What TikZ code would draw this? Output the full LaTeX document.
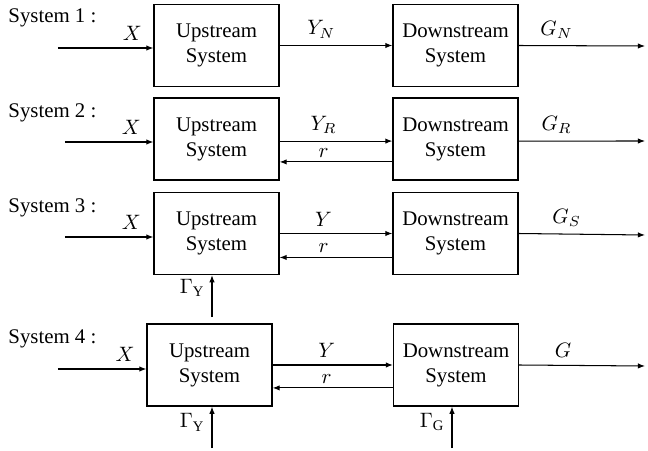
\documentclass[tikz,border=0pt]{standalone}
\usepackage{fontspec}
\setmainfont{Liberation Serif}
\usetikzlibrary{arrows.meta}
\tikzset{
    cascade/.style={
        x=0.48pt, y=-0.48pt,
        block/.style={draw, line width=0.6pt, minimum width=60pt, minimum height=39.4pt, align=center, inner sep=0pt},
        sig/.style={-{Latex[length=3.4pt, width=2.6pt]}, line width=0.5pt},
        tag/.style={inner sep=0pt, anchor=west},
    },
}

\begin{document}
\begin{tikzpicture}[cascade]
            \useasboundingbox (0,0) rectangle (648,451);

            % System 1
            \node[tag]   (s1) at (8,18)        {System 1 :};
            \node[block] (u1) at (216.5,45.5)  {Upstream\\System};
            \node[block] (d1) at (455.5,45.5)  {Downstream\\System};
            \coordinate (x1) at (58,48);
            \coordinate (g1) at (645,46);
            \draw[sig] (x1) -- (x1 -| u1.west) node[pos=0.78, above] {$X$};
            \draw[sig] (u1.east) -- (d1.west) node[pos=0.37, above] {$Y_N$};
            \draw[sig] (d1.east) -- (g1) node[pos=0.3, above] {$G_N$};

            % System 2
            \node[tag]   (s2) at (8,113)       {System 2 :};
            \node[block] (u2) at (216.5,139)   {Upstream\\System};
            \node[block] (d2) at (455.5,139)   {Downstream\\System};
            \coordinate (x2) at (65,142);
            \coordinate (g2) at (645,141);
            \draw[sig] (x2) -- (x2 -| u2.west) node[pos=0.75, above] {$X$};
            \draw[sig] ([yshift=-1pt]u2.east) -- ([yshift=-1pt]d2.west) node[pos=0.39, above] {$Y_R$};
            \draw[sig] ([yshift=-11pt]d2.west) -- ([yshift=-11pt]u2.east) node[pos=0.61, above, inner sep=2pt] {$r$};
            \draw[sig] ([yshift=-1pt]d2.east) -- (g2) node[pos=0.3, above] {$G_R$};

            % System 3
            \node[tag]   (s3) at (8,208)       {System 3 :};
            \node[block] (u3) at (216.5,233.5) {Upstream\\System};
            \node[block] (d3) at (455.5,233.5) {Downstream\\System};
            \coordinate (x3) at (65,237);
            \coordinate (g3) at (645,235);
            \coordinate (c3) at (212,317);
            \draw[sig] (x3) -- (x3 -| u3.west) node[pos=0.75, above] {$X$};
            \draw[sig] (u3.east) -- (d3.west) node[pos=0.39, above] {$Y$};
            \draw[sig] ([yshift=-11.5pt]d3.west) -- ([yshift=-11.5pt]u3.east) node[pos=0.61, above, inner sep=2pt] {$r$};
            \draw[sig] (d3.east) -- (g3) node[pos=0.38, above] {$G_S$};
            \draw[sig] (c3) -- (c3 |- u3.south) node[pos=0.7, left] {$\Gamma_{\mathrm{Y}}$};

            % System 4
            \node[tag]   (s4) at (8,339)       {System 4 :};
            \node[block] (u4) at (209.5,365)   {Upstream\\System};
            \node[block] (d4) at (456,365)     {Downstream\\System};
            \coordinate (x4) at (58,369);
            \coordinate (g4) at (645,366);
            \coordinate (c4) at (212,448);
            \coordinate (e4) at (452,448);
            \draw[sig] (x4) -- (x4 -| u4.west) node[pos=0.76, above] {$X$};
            \draw[sig] (u4.east) -- (d4.west) node[pos=0.45, above] {$Y$};
            \draw[sig] ([yshift=-11pt]d4.west) -- ([yshift=-11pt]u4.east) node[pos=0.55, above, inner sep=2pt] {$r$};
            \draw[sig] (d4.east) -- (g4) node[pos=0.35, above] {$G$};
            \draw[sig] (c4) -- (c4 |- u4.south) node[pos=0.62, left] {$\Gamma_{\mathrm{Y}}$};
            \draw[sig] (e4) -- (e4 |- d4.south) node[pos=0.62, left] {$\Gamma_{\mathrm{G}}$};
        \end{tikzpicture}
\end{document}
